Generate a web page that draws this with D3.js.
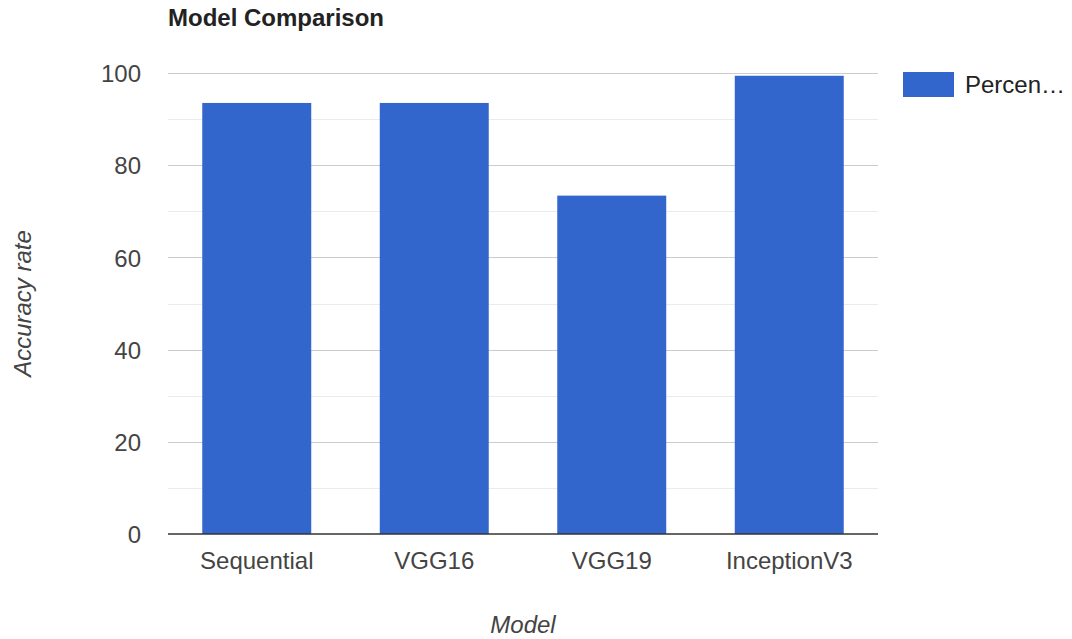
<!DOCTYPE html>
<html>
<head>
<meta charset="utf-8">
<script src="https://cdn.jsdelivr.net/npm/d3@7"></script>
<style>
	body { margin: 0; background: #fff; }
	text { font-family: Arial, "Liberation Sans", sans-serif; }
</style>
</head>
<body>
<svg class="svgChart"></svg>
<script>
// chart data
var models = ['Sequential', 'VGG16', 'VGG19', 'InceptionV3'];
var percent = [93.5, 93.5, 73.4, 99.4];
var yTicks = [0, 20, 40, 60, 80, 100];
var minorTicks = [10, 30, 50, 70, 90];
var seriesName = 'Percen\u2026';

var width = 1072, height = 639;
var plotLeft = 168, plotRight = 878, plotTop = 73, plotBottom = 534;

var svg = d3.select('svg.svgChart').attr('width', width).attr('height', height);

let x = d3.scaleBand()
	.domain(models)
	.range([plotLeft, plotRight])
	.paddingInner(0.386)
	.paddingOuter(0.193)
;
let y = d3.scaleLinear()
	.domain([0, 100])
	.range([plotBottom, plotTop])
;

// gridlines
svg.append('g').selectAll('line').data(minorTicks).join('line')
	.attr('x1', plotLeft).attr('x2', plotRight)
	.attr('y1', d => Math.round(y(d)) + 0.5).attr('y2', d => Math.round(y(d)) + 0.5)
	.style('stroke', '#ebebeb')
;
svg.append('g').selectAll('line').data(yTicks.filter(d => d > 0)).join('line')
	.attr('x1', plotLeft).attr('x2', plotRight)
	.attr('y1', d => Math.round(y(d)) + 0.5).attr('y2', d => Math.round(y(d)) + 0.5)
	.style('stroke', '#cccccc')
;

// bars
svg.append('g').selectAll('rect').data(percent).join('rect')
	.attr('x', (d, i) => x(models[i]))
	.attr('y', d => y(d))
	.attr('width', x.bandwidth())
	.attr('height', d => y(0) - y(d))
	.style('fill', '#3366cc')
;

// baseline
svg.append('line')
	.attr('x1', plotLeft).attr('x2', plotRight)
	.attr('y1', y(0)).attr('y2', y(0))
	.style('stroke', '#333').style('stroke-width', 1.5)
;

// y axis labels
let yaxis = svg.append('g').attr('transform', 'translate(141,0)')
	.call(d3.axisLeft(y).tickValues(yTicks).tickSize(0).tickPadding(0));
yaxis.select('.domain').remove();
yaxis.selectAll('text')
	.attr('dy', '0.36em')
	.style('font-family', 'Arial, "Liberation Sans", sans-serif')
	.style('font-size', '24px').style('fill', '#444');

// x axis labels
let xaxis = svg.append('g').attr('transform', 'translate(0,' + plotBottom + ')')
	.call(d3.axisBottom(x).tickSize(0).tickPadding(0));
xaxis.select('.domain').remove();
xaxis.selectAll('text')
	.attr('y', 35).attr('dy', 0)
	.style('font-family', 'Arial, "Liberation Sans", sans-serif')
	.style('font-size', '24px').style('fill', '#444');

// title
svg.append('text')
	.attr('x', plotLeft).attr('y', 26)
	.style('font-size', '24px').style('font-weight', 'bold').style('fill', '#222')
	.text('Model Comparison')
;

// axis titles
svg.append('text')
	.attr('x', (plotLeft + plotRight) / 2).attr('y', 633)
	.attr('text-anchor', 'middle')
	.style('font-size', '24px').style('font-style', 'italic').style('fill', '#444')
	.text('Model')
;
svg.append('text')
	.attr('transform', 'translate(31,' + (plotTop + plotBottom) / 2 + ') rotate(-90)')
	.attr('text-anchor', 'middle')
	.style('font-size', '24px').style('font-style', 'italic').style('fill', '#444')
	.text('Accuracy rate')
;

// legend
let legend = svg.append('g');
legend.append('rect')
	.attr('x', 903).attr('y', 72).attr('width', 51).attr('height', 25)
	.style('fill', '#3366cc')
;
legend.append('text')
	.attr('x', 965).attr('y', 93)
	.style('font-size', '24px').style('fill', '#222')
	.text(seriesName)
;
</script>
</body>
</html>
